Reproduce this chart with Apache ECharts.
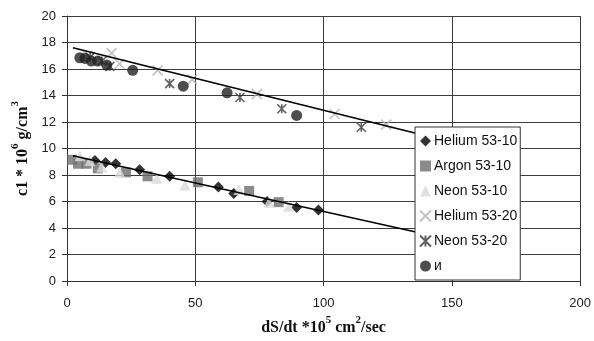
<!DOCTYPE html>
<html>
<head>
<meta charset="utf-8">
<script src="https://cdn.jsdelivr.net/npm/echarts@6/dist/echarts.min.js"></script>
<style>
  html, body { margin: 0; padding: 0; background: #fff; }
  #chart { width: 594px; height: 341px; }
</style>
</head>
<body>
<div id="chart"></div>
<script>
// Measured series: x = dS/dt (×10^5 cm²/sec), y = c1 (×10^6 g/cm³)
const heliumA_x = [10.9, 15, 19, 28.3, 40, 59, 65, 78, 89.5, 98];
const heliumA_y = [9.1, 8.95, 8.85, 8.4, 7.9, 7.1, 6.6, 6.0, 5.55, 5.35];

const argonA_x = [2, 4.3, 7.6, 12, 23, 31.4, 51, 71, 82.5];
const argonA_y = [9.15, 8.85, 8.85, 8.5, 8.2, 7.9, 7.45, 6.8, 5.95];

const neonA_x = [5, 9, 13.5, 20.5, 35, 46, 67, 78.7, 86.4];
const neonA_y = [9.45, 9.1, 8.6, 8.2, 7.75, 7.25, 6.9, 5.95, 5.65];

const heliumB_x = [8, 17.4, 20.5, 35.3, 48.8, 74, 104.3, 124.4];
const heliumB_y = [17.0, 17.2, 16.4, 15.9, 15.2, 14.1, 12.6, 11.8];

const neonB_x = [9, 13.6, 16.7, 40, 67.4, 83.7, 114.7];
const neonB_y = [16.9, 16.6, 16.2, 14.9, 13.85, 13.0, 11.6];

const iSeries_x = [5, 7, 9.5, 12, 15.5, 25.6, 45.3, 62.4, 89.5];
const iSeries_y = [16.85, 16.8, 16.6, 16.6, 16.3, 15.9, 14.7, 14.2, 12.5];

// Linear trend lines (end points)
const trendUpper_x = [2.3, 150];
const trendUpper_y = [17.6, 10.47];
const trendLower_x = [2.3, 150];
const trendLower_y = [9.46, 3.1];

const seriesNames = ['Helium 53-10', 'Argon 53-10', 'Neon 53-10', 'Helium 53-20', 'Neon 53-20', 'и'];

const xTicks = { min: 0, max: 200, interval: 50 };
const yTicks = { min: 0, max: 20, interval: 2 };

function pairs(xs, ys) { return xs.map((x, i) => [x, ys[i]]); }

const crossPath = 'path://M0,0L10,10M10,0L0,10';
const starPath = 'path://M0,0L10,10M10,0L0,10M5,0L5,10';

const chart = echarts.init(document.getElementById('chart'), null, { renderer: 'canvas' });

const labelFont = 'Liberation Sans, Arial, sans-serif';
const titleFont = 'Liberation Serif, Times New Roman, serif';

const titleRich = {
  b: { fontFamily: titleFont, fontWeight: 'bold', fontSize: 16, color: '#111', lineHeight: 21, verticalAlign: 'bottom' },
  s: { fontFamily: titleFont, fontWeight: 'bold', fontSize: 11, color: '#111', lineHeight: 21, verticalAlign: 'top' }
};

chart.setOption({
  backgroundColor: '#fff',
  animation: false,
  grid: { left: 67, right: 11, top: 16, bottom: 52, containLabel: false },
  xAxis: {
    type: 'value',
    min: xTicks.min, max: xTicks.max, interval: xTicks.interval,
    name: '{b|dS/dt *10}{s|5}{b| cm}{s|2}{b|/sec}',
    nameLocation: 'middle',
    nameGap: 34,
    nameTextStyle: { rich: titleRich },
    axisLine: { show: true, lineStyle: { color: '#333', width: 1 } },
    axisTick: { show: true, inside: false, length: 5, lineStyle: { color: '#333' } },
    axisLabel: { fontFamily: labelFont, fontSize: 13, color: '#222', margin: 16 },
    splitLine: { show: true, lineStyle: { color: '#3c3c3c', width: 1 } }
  },
  yAxis: {
    type: 'value',
    min: yTicks.min, max: yTicks.max, interval: yTicks.interval,
    name: '{b|c1 * 10}{s|6}{b| g/cm}{s|3}',
    nameLocation: 'middle',
    nameGap: 28,
    nameRotate: 90,
    nameTextStyle: { rich: titleRich },
    axisLine: { show: true, lineStyle: { color: '#333', width: 1 } },
    axisTick: { show: true, inside: false, length: 5, lineStyle: { color: '#333' } },
    axisLabel: { fontFamily: labelFont, fontSize: 13, color: '#222', margin: 11 },
    splitLine: { show: true, lineStyle: { color: '#3c3c3c', width: 1 } }
  },
  legend: {
    data: seriesNames,
    orient: 'vertical',
    left: 415,
    top: 127,
    backgroundColor: '#fff',
    borderColor: '#333',
    borderWidth: 1,
    borderRadius: 0,
    padding: [7, 3, 7, 4],
    itemWidth: 11,
    itemHeight: 11,
    itemGap: 11,
    textStyle: { fontFamily: labelFont, fontSize: 14, color: '#111', padding: [0, 0, 0, -2] }
  },
  series: [
    {
      name: seriesNames[0], type: 'scatter', symbol: 'diamond', symbolSize: 11,
      itemStyle: { color: '#000' }, data: pairs(heliumA_x, heliumA_y)
    },
    {
      name: seriesNames[1], type: 'scatter', symbol: 'rect', symbolSize: 10,
      itemStyle: { color: '#6e6e6e' }, data: pairs(argonA_x, argonA_y)
    },
    {
      name: seriesNames[2], type: 'scatter', symbol: 'triangle', symbolSize: 11,
      itemStyle: { color: '#d9d9d9' }, data: pairs(neonA_x, neonA_y)
    },
    {
      name: seriesNames[3], type: 'scatter', symbol: crossPath, symbolSize: 10,
      itemStyle: { color: 'rgba(0,0,0,0)', borderColor: '#b3b3b3', borderWidth: 1.6 },
      data: pairs(heliumB_x, heliumB_y)
    },
    {
      name: seriesNames[4], type: 'scatter', symbol: starPath, symbolSize: 9,
      itemStyle: { color: 'rgba(0,0,0,0)', borderColor: '#3a3a3a', borderWidth: 1.6 },
      data: pairs(neonB_x, neonB_y)
    },
    {
      name: seriesNames[5], type: 'scatter', symbol: 'circle', symbolSize: 11,
      itemStyle: { color: '#222' }, data: pairs(iSeries_x, iSeries_y)
    },
    {
      name: 'trendUpper', type: 'line', showSymbol: false, silent: true,
      lineStyle: { color: '#000', width: 1.5 }, data: pairs(trendUpper_x, trendUpper_y)
    },
    {
      name: 'trendLower', type: 'line', showSymbol: false, silent: true,
      lineStyle: { color: '#000', width: 1.5 }, data: pairs(trendLower_x, trendLower_y)
    }
  ]
});
</script>
</body>
</html>
